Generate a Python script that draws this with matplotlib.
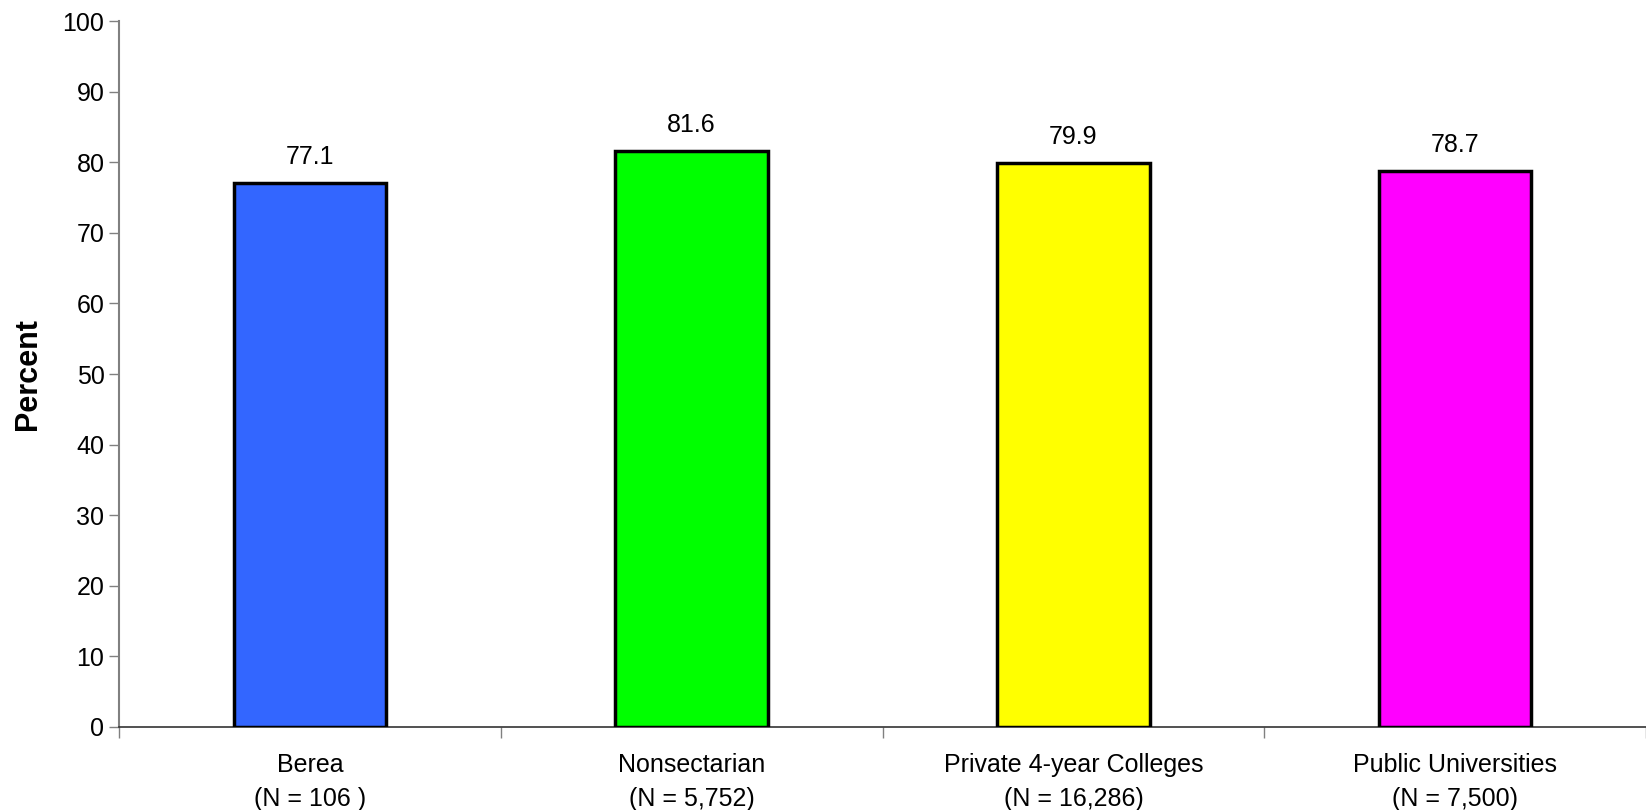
import matplotlib.pyplot as plt
import numpy as np

plt.rcParams['font.family'] = ['Liberation Sans', 'DejaVu Sans']

categories = ['Berea\n(N = 106 )', 'Nonsectarian\n(N = 5,752)',
              'Private 4-year Colleges\n(N = 16,286)', 'Public Universities\n(N = 7,500)']
values = [77.1, 81.6, 79.9, 78.7]
colors = ['#3366FF', '#00FF00', '#FFFF00', '#FF00FF']

fig = plt.figure(figsize=(16.46, 8.10), dpi=100)
ax = fig.add_axes([0.0723, 0.1025, 0.9277, 0.8715])

x = np.arange(len(values))
ax.bar(x, values, width=0.40, color=colors, edgecolor='black', linewidth=2.5, zorder=3)

for xi, v in zip(x, values):
    ax.text(xi, v + 2.0, f'{v:.1f}', ha='center', va='bottom', fontsize=18)

ax.set_xlim(-0.5, len(values) - 0.5)
ax.set_ylim(0, 100)
ax.set_yticks(np.arange(0, 101, 10))
ax.set_xticks(x)
ax.set_xticklabels(categories, fontsize=18, linespacing=1.5)
ax.set_xticks(np.arange(-0.5, len(values), 1), minor=True)
ax.tick_params(axis='x', which='major', length=0, pad=19)
ax.tick_params(axis='x', which='minor', length=8, width=1, color='#808080', direction='out')
ax.tick_params(axis='y', labelsize=18, length=7, width=1, color='#808080', direction='out')

ax.spines['top'].set_visible(False)
ax.spines['right'].set_visible(False)
ax.spines['left'].set_color('#808080')
ax.spines['left'].set_linewidth(1.5)
ax.spines['bottom'].set_color('#333333')
ax.spines['bottom'].set_linewidth(1.2)

ax.set_ylabel('Percent', fontsize=22, fontweight='bold', labelpad=14)

fig.savefig('out.png', dpi=100)
